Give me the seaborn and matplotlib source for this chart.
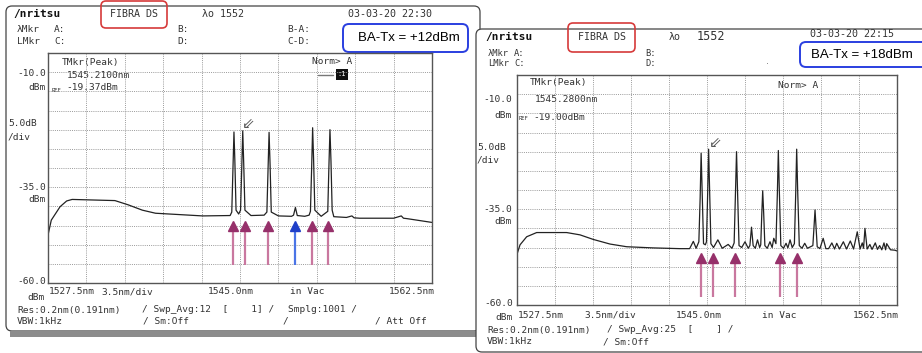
import matplotlib
matplotlib.use("Agg")
import matplotlib.pyplot as plt
import seaborn as sns
from matplotlib.patches import FancyBboxPatch, Rectangle

# ---- spectrum traces (wavelength nm, level dBm) ----
left_nm = [1527.50, 1527.80, 1528.60, 1529.20, 1529.70, 1533.60, 1534.80, 1536.10, 1537.30,
           1541.60, 1544.10, 1544.25, 1544.36, 1544.45, 1544.53, 1544.64, 1544.88, 1545.05,
           1545.16, 1545.25, 1545.34, 1545.45, 1546.00, 1547.20, 1547.45, 1547.56, 1547.65,
           1547.74, 1547.85, 1548.50, 1549.70, 1549.88, 1550.05, 1550.22, 1550.90, 1551.30,
           1551.42, 1551.53, 1551.62, 1551.71, 1551.82, 1552.40, 1553.00, 1553.10, 1553.20,
           1553.29, 1553.40, 1553.55, 1554.70, 1555.20, 1555.40, 1555.90, 1559.00, 1559.70,
           1559.90, 1560.20, 1562.50]
left_dbm = [-47.5, -43.6, -40.1, -38.6, -38.2, -38.5, -39.6, -41.0, -41.8,
            -42.5, -42.4, -41.5, -30.0, -20.6, -28.0, -41.0, -42.0, -41.0,
            -30.0, -20.3, -29.0, -41.0, -42.4, -42.3, -41.5, -30.0, -20.7,
            -29.0, -41.5, -42.5, -42.6, -42.3, -40.3, -42.4, -42.6, -42.3,
            -41.3, -30.0, -19.5, -28.0, -41.0, -42.6, -41.3, -30.0, -20.0,
            -28.0, -41.0, -42.7, -42.9, -42.5, -43.0, -43.1, -43.1, -42.5,
            -43.1, -43.2, -44.2]

right_nm = [1527.53, 1527.78, 1528.39, 1529.31, 1532.07, 1533.30, 1534.53, 1536.07, 1537.60,
            1540.00, 1542.50, 1543.40, 1543.74, 1544.00, 1544.25, 1544.37, 1544.46, 1544.55,
            1544.68, 1544.85, 1544.95, 1545.06, 1545.15, 1545.24, 1545.36, 1545.60, 1546.00,
            1546.40, 1546.95, 1547.30, 1547.50, 1547.62, 1547.72, 1547.81, 1547.95, 1548.20,
            1548.50, 1548.80, 1548.95, 1549.10, 1549.25, 1549.45, 1549.65, 1549.85, 1549.95,
            1550.05, 1550.13, 1550.22, 1550.33, 1550.55, 1550.80, 1551.00, 1551.15, 1551.35,
            1551.48, 1551.57, 1551.66, 1551.80, 1552.05, 1552.28, 1552.45, 1552.65, 1552.85,
            1553.05, 1553.17, 1553.26, 1553.35, 1553.50, 1553.75, 1554.00, 1554.25, 1554.75,
            1554.86, 1554.95, 1555.04, 1555.15, 1555.40, 1555.70, 1555.95, 1556.20, 1556.50,
            1556.75, 1556.95, 1557.20, 1557.56, 1557.85, 1558.20, 1558.50, 1558.84, 1559.10,
            1559.30, 1559.42, 1559.55, 1559.75, 1560.00, 1560.20, 1560.50, 1560.70, 1560.90,
            1561.10, 1561.30, 1561.45, 1561.55, 1561.90, 1562.30, 1562.50]
right_dbm = [-46.5, -44.3, -42.2, -41.1, -41.1, -41.7, -42.9, -44.1, -44.8,
             -45.1, -45.3, -45.3, -43.4, -45.2, -43.5, -32.0, -20.4, -30.0,
             -44.0, -44.3, -43.5, -31.0, -19.35, -30.0, -44.0, -45.0, -43.0,
             -45.2, -44.2, -45.2, -43.8, -31.0, -20.0, -30.0, -44.5, -45.0,
             -43.5, -45.2, -44.5, -39.7, -44.5, -45.2, -43.0, -45.0, -44.3,
             -36.0, -30.2, -36.0, -44.5, -45.2, -43.5, -45.0, -42.6, -44.0,
             -31.0, -19.7, -30.0, -44.5, -45.2, -43.9, -45.1, -43.0, -45.0,
             -44.0, -31.0, -19.35, -30.0, -44.5, -45.2, -43.9, -45.2, -44.5,
             -39.5, -35.2, -39.5, -44.8, -45.3, -42.6, -45.3, -45.3, -43.8,
             -45.4, -43.9, -45.4, -43.5, -45.4, -43.3, -45.4, -40.9, -45.4,
             -43.8, -45.2, -40.0, -45.4, -44.2, -45.5, -43.8, -45.5, -44.5,
             -45.6, -43.8, -45.6, -44.0, -45.6, -45.7, -45.9]

# channel arrows under the peaks
left_arrow_nm = [1544.34, 1545.46, 1547.53, 1550.00, 1551.54, 1553.05]
left_arrow_blue = [False, False, False, True, False, False]
right_arrow_nm = [1544.42, 1545.53, 1547.61, 1551.72, 1553.26]

# trace marker (peak)
left_marker = (1545.75, -18.3)
right_marker = (1545.76, -17.5)

W, H = 922, 353
TXT = "#333333"
MAG_HEAD, MAG_SHAFT = "#96306a", "#c9779f"
BLU_HEAD, BLU_SHAFT = "#1f3fc8", "#4a74e6"

sns.set_style("white")
plt.rcParams["font.family"] = ["DejaVu Sans Mono", "DejaVu Sans"]

fig = plt.figure(figsize=(W / 100, H / 100), dpi=100)
bg = fig.add_axes([0, 0, 1, 1])
bg.set_xlim(0, W)
bg.set_ylim(H, 0)
bg.axis("off")


def rbox(x0, y0, x1, y1, ec, lw, r, fc="none", z=1):
    bg.add_patch(FancyBboxPatch((x0, y0), x1 - x0, y1 - y0,
                                boxstyle=f"round,pad=0,rounding_size={r}",
                                ec=ec, fc=fc, lw=lw, zorder=z))


def txt(x, y, s, size=6.8, ha="left", z=3, **kw):
    bg.text(x, y, s, fontsize=size, ha=ha, va="center", color=kw.pop("color", TXT), zorder=z, **kw)


def plot_area(rect, nm, dbm, arrows, blue, arrow_y, marker):
    x0, y0, x1, y1 = rect
    ax = fig.add_axes([x0 / W, 1 - y1 / H, (x1 - x0) / W, (y1 - y0) / H])
    ax.set_facecolor("none")
    sns.lineplot(x=nm, y=dbm, ax=ax, color="#222222", linewidth=0.9, sort=False)
    ax.set_xlim(1527.5, 1562.5)
    ax.set_ylim(-60, 0)
    ax.set_xticks([1527.5 + 3.5 * i for i in range(11)])
    ax.set_yticks(list(range(-60, 1, 5)))
    ax.grid(True, color="#9a9a9a", linestyle=(0, (1, 1.2)), linewidth=0.7)
    ax.tick_params(length=0, labelbottom=False, labelleft=False)
    ax.set_xlabel("")
    ax.set_ylabel("")
    for sp in ax.spines.values():
        sp.set_color("#555555")
        sp.set_linewidth(1.0)
    head_y, base_y, bot_y = arrow_y
    for xa, b in zip(arrows, blue):
        shaft, head = (BLU_SHAFT, BLU_HEAD) if b else (MAG_SHAFT, MAG_HEAD)
        ax.vlines(xa, bot_y, base_y, color=shaft, linewidth=1.6, zorder=4)
        ax.plot([xa], [head_y], marker="^", ms=7, color=head, ls="none", zorder=5)
    ax.text(marker[0], marker[1], "\u21d9", fontsize=11, color="#555555",
            ha="center", va="center", family="DejaVu Sans")
    return ax


# ---------------- left screen ----------------
rbox(6, 6, 480, 331, "#444444", 0.9, 6, fc="white", z=1)
bg.add_patch(Rectangle((10, 331), 466, 6, fc="#8c8c8c", ec="none", zorder=1))

txt(13, 14, "/nritsu", size=8, weight="bold", color="#111111")
txt(110, 14, "FIBRA DS", size=7.2)
txt(202, 14, "\u03bbo 1552", size=7.2)
txt(348, 14, "03-03-20 22:30", size=7.2)
for lab, x in [("\u03bbMkr", 17), ("A:", 54), ("B:", 177), ("B-A:", 287)]:
    txt(x, 29, lab)
for lab, x in [("LMkr", 17), ("C:", 54), ("D:", 177), ("C-D:", 287)]:
    txt(x, 42, lab)
txt(62, 62, "TMkr(Peak)")
txt(67, 75, "1545.2100nm")
txt(52, 90, "REF", size=4)
txt(66, 87, "-19.37dBm")
txt(312, 62, "Norm> A")
bg.plot([318, 333], [75, 75], color="#777777", lw=1.0, zorder=3)
bg.add_patch(Rectangle((336, 69), 12, 11, fc="#111111", ec="none", zorder=3))
txt(342, 74.5, ":1", size=5, ha="center", color="white", z=4)
txt(46, 73, "-10.0", ha="right")
txt(46, 87, "dBm", ha="right")
txt(8, 124, "5.0dB")
txt(8, 137, "/div")
txt(46, 187, "-35.0", ha="right")
txt(46, 200, "dBm", ha="right")
txt(46, 282, "-60.0", ha="right")
txt(27, 297, "dBm")
txt(49, 292, "1527.5nm")
txt(101, 292, "3.5nm/div")
txt(208, 292, "1545.0nm")
txt(290, 292, "in Vac")
txt(435, 292, "1562.5nm", ha="right")
txt(17, 310, "Res:0.2nm(0.191nm)")
txt(142, 310, "/ Swp_Avg:12  [    1] /")
txt(288, 310, "Smplg:1001 /")
txt(17, 321, "VBW:1kHz")
txt(143, 321, "/ Sm:Off")
txt(283, 321, "/")
txt(375, 321, "/ Att Off")

rbox(101, 1, 167, 28, "#d63a3a", 1.2, 5, z=5)
rbox(343, 24, 468, 52, "#2a3fe0", 1.4, 6, fc="white", z=5)
bg.text(409, 38, "BA-Tx = +12dBm", fontsize=9.5, ha="center", va="center",
        family="Liberation Sans", color="black", zorder=6)

plot_area((48, 53, 432, 283), left_nm, left_dbm, left_arrow_nm, left_arrow_blue,
          (-45.0, -46.0, -55.3), left_marker)

# ---------------- right screen ----------------
rbox(476, 29, 960, 352, "#444444", 0.9, 6, fc="white", z=2)

txt(485, 37, "/nritsu", size=8, weight="bold", color="#111111", z=4)
txt(578, 37, "FIBRA DS", size=7.2, z=4)
txt(669, 37, "\u03bbo", size=7.2, z=4)
txt(697, 37, "1552", size=8.5, z=4)
txt(810, 34, "03-03-20 22:15", size=7.2, z=4)
for lab, x in [("\u03bbMkr", 488), ("A:", 514), ("B:", 645)]:
    txt(x, 53, lab, size=6.3, z=4)
for lab, x in [("LMkr", 488), ("C:", 514), ("D:", 645)]:
    txt(x, 64, lab, size=6.3, z=4)
txt(766, 63, ".", size=4, z=4)
txt(530, 82, "TMkr(Peak)", z=4)
txt(535, 99, "1545.2800nm", z=4)
txt(519, 119, "REF", size=4, z=4)
txt(533, 118, "-19.00dBm", z=4)
txt(778, 85, "Norm> A", z=4)
txt(512, 99, "-10.0", ha="right", z=4)
txt(512, 116, "dBm", ha="right", z=4)
txt(477, 147, "5.0dB", z=4)
txt(477, 160, "/div", z=4)
txt(512, 209, "-35.0", ha="right", z=4)
txt(512, 221, "dBm", ha="right", z=4)
txt(513, 303, "-60.0", ha="right", z=4)
txt(495, 318, "dBm", z=4)
txt(518, 315, "1527.5nm", z=4)
txt(584, 315, "3.5nm/div", z=4)
txt(676, 315, "1545.0nm", z=4)
txt(762, 315, "in Vac", z=4)
txt(899, 315, "1562.5nm", ha="right", z=4)
txt(487, 330, "Res:0.2nm(0.191nm)", z=4)
txt(607, 330, "/ Swp_Avg:25  [    ] /", z=4)
txt(487, 342, "VBW:1kHz", z=4)
txt(603, 342, "/ Sm:Off", z=4)

rbox(568, 23, 635, 52, "#d63a3a", 1.2, 5, z=5)
rbox(800, 42, 930, 67, "#2a3fe0", 1.4, 6, fc="white", z=5)
bg.text(862, 55, "BA-Tx = +18dBm", fontsize=9.5, ha="center", va="center",
        family="Liberation Sans", color="black", zorder=6)

plot_area((517, 75, 897, 305), right_nm, right_dbm, right_arrow_nm,
          [False] * len(right_arrow_nm), (-47.7, -48.8, -57.8), right_marker)

fig.savefig("out.png", dpi=100)
